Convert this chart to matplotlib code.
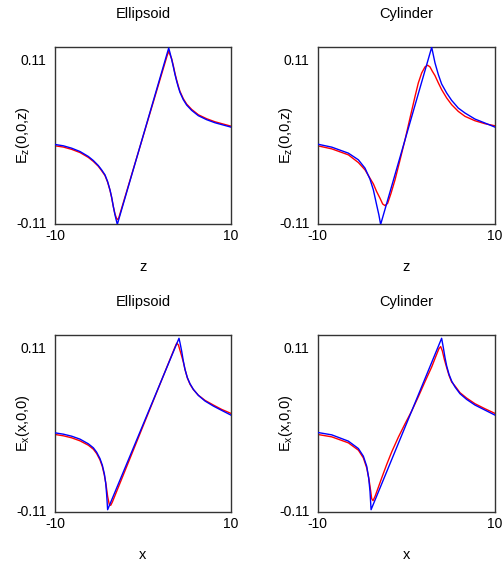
import matplotlib
matplotlib.use("Agg")
import matplotlib.pyplot as plt

plt.rcParams['font.family'] = ['Liberation Sans', 'DejaVu Sans']
plt.rcParams['mathtext.default'] = 'regular'

# ---------------- data ----------------
titles = ["Ellipsoid", "Cylinder", "Ellipsoid", "Cylinder"]
ylabels = ["E$_z$(0,0,z)", "E$_z$(0,0,z)", "E$_x$(x,0,0)", "E$_x$(x,0,0)"]
xlabels = ["z", "z", "x", "x"]
xticks = [-10, 10]
yticks = [-0.11, 0.11]
ytick_labels = ["-0.11", "0.11"]

# top-left: ellipsoid, Ez along z
tl_blue_z = [-10, -9.05, -8.11, -7.16, -6.21, -5.64, -5.08, -4.70, -4.32, -4.02, -3.75, -3.56, -3.37, -3.18, -2.92,
             2.92, 3.07, 3.26, 3.45, 3.64, 3.83, 4.02, 4.20, 4.58, 4.96, 5.53, 6.29, 7.24, 8.18, 9.13, 10]
tl_blue_v = [-0.0051, -0.0069, -0.0101, -0.0146, -0.0213, -0.0268, -0.0335, -0.0394, -0.0461, -0.0552, -0.0664, -0.0764, -0.0890, -0.1003, -0.113,
             0.125, 0.1185, 0.1094, 0.0995, 0.0891, 0.0801, 0.0720, 0.0652, 0.0553, 0.0481, 0.0409, 0.0337, 0.0283, 0.0242, 0.0211, 0.0183]
tl_red_z = [-10, -9.05, -8.11, -7.16, -6.21, -5.64, -5.08, -4.70, -4.32, -4.02, -3.75, -3.56, -3.37, -3.18, -3.0, -2.88, -2.75,
            2.75, 2.92, 3.07, 3.26, 3.45, 3.64, 3.83, 4.02, 4.20, 4.58, 4.96, 5.53, 6.29, 7.24, 8.18, 9.13, 10]
tl_red_v = [-0.0069, -0.0086, -0.0117, -0.0160, -0.0226, -0.0280, -0.0345, -0.0405, -0.0470, -0.0560, -0.0670, -0.0770, -0.0890, -0.0990, -0.1050, -0.1065, -0.1040,
            0.1150, 0.1205, 0.1160, 0.1105, 0.1010, 0.0905, 0.0815, 0.0735, 0.0666, 0.0566, 0.0494, 0.0422, 0.0350, 0.0296, 0.0255, 0.0224, 0.0196]

# top-right: cylinder, Ez along z
tr_blue_z = [-10, -8.42, -6.54, -5.41, -4.66, -4.10, -3.72, -3.35, -3.1, -2.9,
             2.86, 3.23, 3.61, 3.98, 4.55, 5.11, 5.86, 6.62, 7.74, 8.87, 10]
tr_blue_v = [-0.0047, -0.0087, -0.0168, -0.0258, -0.0371, -0.0520, -0.0664, -0.0867, -0.100, -0.113,
             0.126, 0.105, 0.0891, 0.0765, 0.0643, 0.0544, 0.0440, 0.0373, 0.0292, 0.0238, 0.0183]
tr_red_z = [-10, -8.42, -6.54, -5.41, -4.66, -4.10, -3.72, -3.35, -2.97, -2.67, -2.41, -2.11, -1.73, -1.28, -0.71,
            -0.15, 0.41, 0.98, 1.35, 1.73, 2.10, 2.41, 2.67, 2.93, 3.23, 3.61, 3.98, 4.55, 5.11, 5.86, 6.62, 7.74, 8.87, 10]
tr_red_v = [-0.0069, -0.0110, -0.0191, -0.0295, -0.0394, -0.0507, -0.0583, -0.0687, -0.0777, -0.0854, -0.0876, -0.0845, -0.0710, -0.0529, -0.0259,
            0.0012, 0.0305, 0.0598, 0.0779, 0.0914, 0.0995, 0.1018, 0.0995, 0.0937, 0.0878, 0.0779, 0.0689, 0.0576, 0.0486, 0.0395, 0.0328, 0.0269, 0.0229, 0.0201]

# bottom-left: ellipsoid, Ex along x
bl_blue_z = [-10, -9.05, -8.11, -7.16, -6.21, -5.64, -5.27, -4.89, -4.62, -4.39, -4.24, -4.13, -4.02,
             4.09, 4.20, 4.39, 4.58, 4.77, 5.04, 5.34, 5.72, 6.29, 7.05, 8.0, 8.94, 10]
bl_blue_v = [-0.0056, -0.0074, -0.0101, -0.0141, -0.0204, -0.0258, -0.0317, -0.0403, -0.0493, -0.0610, -0.0731, -0.0890, -0.1093,
             0.122, 0.1162, 0.1049, 0.0914, 0.0801, 0.0689, 0.0607, 0.0531, 0.0449, 0.0373, 0.0305, 0.0247, 0.0183]
bl_red_z = [-10, -9.05, -8.11, -7.16, -6.21, -5.64, -5.27, -4.89, -4.62, -4.39, -4.20, -4.02, -3.83, -3.67, -3.48,
            3.64, 3.83, 4.02, 4.20, 4.39, 4.58, 4.77, 5.04, 5.34, 5.72, 6.29, 7.05, 8.0, 8.94, 10]
bl_red_v = [-0.0078, -0.0096, -0.0123, -0.0164, -0.0223, -0.0277, -0.0335, -0.0421, -0.0511, -0.0628, -0.0755, -0.0913, -0.1025, -0.1034, -0.0989,
            0.1103, 0.1153, 0.1131, 0.1058, 0.0982, 0.0901, 0.0801, 0.0685, 0.0600, 0.0528, 0.0452, 0.0382, 0.0319, 0.0260, 0.0206]

# bottom-right: cylinder, Ex along x
br_blue_z = [-10, -8.42, -6.54, -5.41, -4.85, -4.47, -4.25, -4.10, -3.98,
             3.98, 4.17, 4.36, 4.55, 4.81, 5.11, 5.49, 6.05, 6.80, 7.74, 8.87, 10]
br_blue_v = [-0.0051, -0.0083, -0.0168, -0.0268, -0.0371, -0.0507, -0.0664, -0.0845, -0.1093,
             0.122, 0.1094, 0.0959, 0.0846, 0.0734, 0.0643, 0.0562, 0.0472, 0.0395, 0.0319, 0.0251, 0.0183]
br_red_z = [-10, -8.42, -6.54, -5.41, -4.85, -4.47, -4.21, -4.02, -3.91, -3.76, -3.53, -3.16, -2.78, -2.22, -1.65, -0.90,
            -0.15, 0.60, 1.35, 2.10, 2.86, 3.42, 3.68, 3.87, 4.06, 4.28, 4.55, 4.81, 5.11, 5.49, 6.05, 6.80, 7.74, 8.87, 10]
br_red_v = [-0.0078, -0.0110, -0.0191, -0.0290, -0.0394, -0.0529, -0.0687, -0.0845, -0.0944, -0.0971, -0.0913, -0.0791, -0.0664, -0.0484, -0.0313, -0.0114,
            0.0066, 0.0238, 0.0431, 0.0634, 0.0833, 0.1004, 0.1081, 0.1108, 0.1049, 0.0937, 0.0824, 0.0720, 0.0630, 0.0576, 0.0486, 0.0413, 0.0337, 0.0269, 0.0206]

panels = [
    (tl_blue_z, tl_blue_v, tl_red_z, tl_red_v),
    (tr_blue_z, tr_blue_v, tr_red_z, tr_red_v),
    (bl_blue_z, bl_blue_v, bl_red_z, bl_red_v),
    (br_blue_z, br_blue_v, br_red_z, br_red_v),
]

# ---------------- figure ----------------
W, H = 503, 563
fig = plt.figure(figsize=(W / 100, H / 100), dpi=100)

boxes = [  # left, top, right, bottom in pixels
    (55, 47.3, 231, 223.7),
    (317.7, 47.3, 495, 223.7),
    (55, 335.3, 231, 511.7),
    (317.7, 335.3, 495, 511.7),
]

for i, (bz, bv, rz, rv) in enumerate(panels):
    l, t, r, b = boxes[i]
    ax = fig.add_axes([l / W, 1 - b / H, (r - l) / W, (b - t) / H])
    ax.plot(rz, rv, color='red', lw=1.0, zorder=2)
    ax.plot(bz, bv, color='blue', lw=1.0, zorder=3)
    ax.set_xlim(-10, 10)
    ax.set_ylim(-0.112, 0.126)
    ax.set_xticks(xticks)
    ax.set_xticklabels([str(v) for v in xticks])
    ax.set_yticks(yticks)
    ax.set_yticklabels(ytick_labels)
    ax.tick_params(length=0, labelsize=10, pad=6)
    ax.tick_params(axis='x', pad=4)
    for s in ax.spines.values():
        s.set_color('#333333')
        s.set_linewidth(1.0)
    ax.set_title(titles[i], fontsize=10.5, pad=21)
    ax.set_xlabel(xlabels[i], fontsize=10.5, labelpad=12)
    ax.set_ylabel(ylabels[i], fontsize=10.5)
    ax.yaxis.set_label_coords(-0.13, 0.5)

fig.savefig("out.png", dpi=100)
